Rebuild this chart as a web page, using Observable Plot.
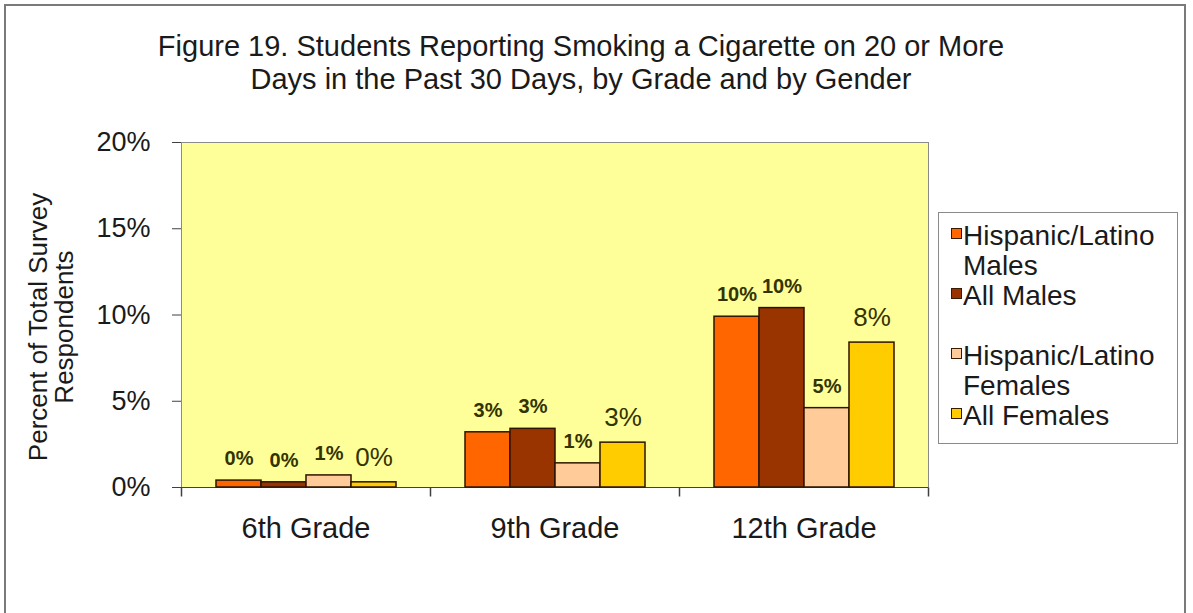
<!DOCTYPE html>
<html>
<head>
<meta charset="utf-8">
<script src="https://cdn.jsdelivr.net/npm/d3@7"></script>
<script src="https://cdn.jsdelivr.net/npm/@observablehq/plot@0.6"></script>
<style>
  html, body { margin: 0; padding: 0; background: #fff; }
  #chart { position: relative; width: 1193px; height: 613px; overflow: hidden; background: #fff;
           font-family: "Liberation Sans", Arial, sans-serif; color: #111; }
  #border { position: absolute; left: 4px; top: 4px; width: 1182px; height: 660px; border: 2px solid #7a7a7a; box-sizing: border-box; }
  #plot { position: absolute; left: 0; top: 0; }
  #title { position: absolute; left: 0; top: 30px; width: 1162px; text-align: center; font-size: 29px; line-height: 33px; color: #1a1a1a; }
  #ytitle { position: absolute; left: -148px; top: 300px; width: 400px; height: 54px; text-align: center;
            font-size: 26px; line-height: 26px; transform: rotate(-90deg); transform-origin: 50% 50%; color: #1a1a1a; }
  #legend { position: absolute; left: 938px; top: 212px; width: 240px; height: 232px; border: 1px solid #8a8a8a;
            box-sizing: border-box; padding: 8px 4px 0 12px; font-size: 28px; line-height: 30px; color: #1a1a1a; }
  .entry { display: flex; align-items: flex-start; }
  .entry.gap { margin-top: 30px; }
  .sw { flex: none; width: 9px; height: 9px; border: 1px solid #3a1a00; margin-top: 7px; margin-right: 1px; }
</style>
</head>
<body>
<div id="chart">
  <div id="border"></div>
  <div id="plot"></div>
  <div id="title">Figure 19. Students Reporting Smoking a Cigarette on 20 or More<br>Days in the Past 30 Days, by Grade and by Gender</div>
  <div id="ytitle">Percent of Total Survey<br>Respondents</div>
  <div id="legend"></div>
</div>
<script>
// ---- data ----
const grades = ["6th Grade", "9th Grade", "12th Grade"];
const series = ["Hispanic/Latino Males", "All Males", "Hispanic/Latino Females", "All Females"];
const hispanicMales   = [0.4, 3.2, 9.9];
const allMales        = [0.3, 3.4, 10.4];
const hispanicFemales = [0.7, 1.4, 4.6];
const allFemales      = [0.3, 2.6, 8.4];
const hispanicMalesLabels   = ["0%", "3%", "10%"];
const allMalesLabels        = ["0%", "3%", "10%"];
const hispanicFemalesLabels = ["1%", "1%", "5%"];
const allFemalesLabels      = ["0%", "3%", "8%"];
const seriesColors = ["#ff6600", "#993300", "#ffcc99", "#ffcc00"];
const yTicks = [0, 5, 10, 15, 20];

const seriesValues = [hispanicMales, allMales, hispanicFemales, allFemales];
const seriesLabels = [hispanicMalesLabels, allMalesLabels, hispanicFemalesLabels, allFemalesLabels];
const rows = [];
grades.forEach((g, gi) => series.forEach((s, si) => {
  rows.push({grade: g, series: s, value: seriesValues[si][gi], label: seriesLabels[si][gi]});
}));

const tickDown = { draw(ctx) { ctx.moveTo(0, 0); ctx.lineTo(0, 9); } };
const lastGrade = [grades[grades.length - 1]];

const chart = Plot.plot({
  width: 1193,
  height: 613,
  marginLeft: 180,
  marginRight: 265,
  marginTop: 142,
  marginBottom: 126,
  style: { fontFamily: "'Liberation Sans', Arial, sans-serif", fontSize: "27px", background: "transparent", color: "#1a1a1a" },
  fx: { domain: grades, padding: 0, label: null },
  x: { domain: series, paddingInner: 0, paddingOuter: 0.75, axis: null },
  y: { domain: [0, 20], label: null },
  color: { domain: series, range: seriesColors },
  marks: [
    Plot.frame({ facet: "super", fill: "#ffff99", stroke: "#8a8a8a" }),
    Plot.axisY({ ticks: yTicks, tickFormat: d => d + "%", tickSize: 9, tickPadding: 22, fontSize: 27, label: null, stroke: "#404040", line: true }),
    Plot.axisFx({ anchor: "bottom", tickSize: 0, tickPadding: 30, fontSize: 29, label: null }),
    Plot.ruleY([0], { stroke: "#404040" }),
    Plot.dot(grades, { fx: d => d, x: null, frameAnchor: "bottom-left", symbol: tickDown, fill: "none", stroke: "#404040" }),
    Plot.dot(lastGrade, { fx: d => d, x: null, frameAnchor: "bottom-right", symbol: tickDown, fill: "none", stroke: "#404040" }),
    Plot.barY(rows, { fx: "grade", x: "series", y: "value", fill: "series", stroke: "#2e1400", strokeWidth: 1.5 }),
    Plot.text(rows.filter(d => d.series !== "All Females"), {
      fx: "grade", x: "series", y: "value", text: "label", dy: -22, fontSize: 20, fontWeight: "bold", fill: "#333300"
    }),
    Plot.text(rows.filter(d => d.series === "All Females"), {
      fx: "grade", x: "series", y: "value", text: "label", dy: -25, fontSize: 26, fill: "#333300"
    })
  ]
});
document.getElementById("plot").appendChild(chart);

// HTML legend built from the same series/colour arrays
const legend = document.getElementById("legend");
series.forEach((s, i) => {
  const e = document.createElement("div");
  e.className = "entry" + (i === 2 ? " gap" : "");
  const sw = document.createElement("span");
  sw.className = "sw";
  sw.style.background = seriesColors[i];
  const t = document.createElement("span");
  t.textContent = s;
  e.appendChild(sw); e.appendChild(t);
  legend.appendChild(e);
});
</script>
</body>
</html>
